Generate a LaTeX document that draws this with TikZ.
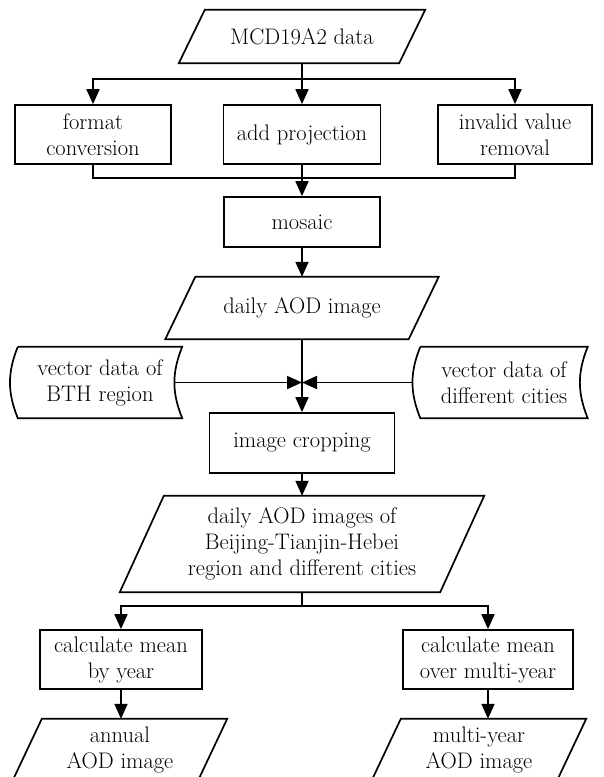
\documentclass[tikz,border=0pt]{standalone}
\usepackage{tikz}
\usetikzlibrary{arrows.meta, positioning}

\newcommand{\drawpara}[2]{%
  \draw[line] ([xshift=#2]#1.north west) -- ([xshift=#2]#1.north east)
    -- ([xshift=-#2]#1.south east) -- ([xshift=-#2]#1.south west) -- cycle;}
\newcommand{\drawstore}[1]{%
  \draw[line] (#1.north west) -- (#1.north east) to[bend right=22] (#1.south east)
    -- (#1.south west) to[bend left=22] (#1.north west);}

\begin{document}
\begin{tikzpicture}[x=1pt, y=-1pt,
  line/.style={line width=1.7pt, line join=miter},
  arr/.style={line, -{Triangle[length=15pt, width=13pt]}},
  txt/.style={font=\fontsize{22.5}{26}\selectfont, align=center, inner sep=0pt},
  procbox/.style={txt, draw, line width=1.7pt, minimum height=59pt},
  storebox/.style={txt, minimum width=164pt, minimum height=71pt}]
\clip (0,0) rectangle (604,777);

\node (mcd) [txt, minimum width=220pt, minimum height=53pt] at (302,36.5) {MCD19A2 data};
\node (fmt) [procbox, minimum width=156pt] at (93,134.5) {format\\conversion};
\node (proj) [procbox, minimum width=157pt] at (302,134.5) {add projection};
\node (inv) [procbox, minimum width=154pt] at (515,134.5) {invalid value\\removal};
\node (mosaic) [procbox, minimum width=156pt, minimum height=50pt] at (302,222) {mosaic};
\node (daily) [txt, minimum width=243pt, minimum height=62pt] at (302,308) {daily AOD image};
\node (bth) [storebox] at (100,382.5) {vector data of\\BTH region};
\node (cities) [storebox, minimum width=167pt] at (504,382.5) {vector data of\\different cities};
\node (crop) [procbox, minimum width=185pt, minimum height=60pt] at (302,443) {image cropping};
\node (bthimg) [txt, minimum width=320pt, minimum height=96pt] at (302,544) {daily AOD images of\\Beijing-Tianjin-Hebei\\region and different cities};
\node (yearly) [procbox, minimum width=162pt] at (121,659.5) {calculate mean\\by year};
\node (multi) [procbox, minimum width=170pt] at (488,659.5) {calculate mean\\over multi-year};
\node (annual) [txt, minimum width=185pt, minimum height=61pt] at (120,749.5) {annual\\AOD image};
\node (multiimg) [txt, minimum width=185pt, minimum height=61pt] at (479,749.5) {multi-year\\AOD image};

\drawpara{mcd}{13pt}
\drawpara{daily}{15pt}
\drawpara{bthimg}{22pt}
\drawpara{annual}{14.5pt}
\drawpara{multiimg}{14.5pt}
\drawstore{bth}
\drawstore{cities}

\coordinate (split) at (302,79);
\coordinate (merge) at (302,178);
\coordinate (join) at (302,382.5);
\coordinate (fork) at (302,606);

\draw[arr] (mcd.south) -- (proj.north);
\draw[arr] (split) -| (fmt.north);
\draw[arr] (split) -| (inv.north);
\draw[line] (fmt.south) |- (merge) -| (inv.south);
\draw[arr] (proj) -- (mosaic);
\draw[arr] (mosaic) -- (daily);
\draw[arr] (daily) -- (crop);
\draw[arr] ([xshift=-7pt]bth.east) -- (join);
\draw[arr] ([xshift=-7pt]cities.west) -- (join);
\draw[arr] (crop) -- (bthimg);
\draw[line] (bthimg.south) -- (fork);
\draw[arr] (fork) -| (yearly.north);
\draw[arr] (fork) -| (multi.north);
\draw[arr] (yearly.south) -- (yearly.south |- annual.north);
\draw[arr] (multi.south) -- (multi.south |- multiimg.north);
\end{tikzpicture}
\end{document}
